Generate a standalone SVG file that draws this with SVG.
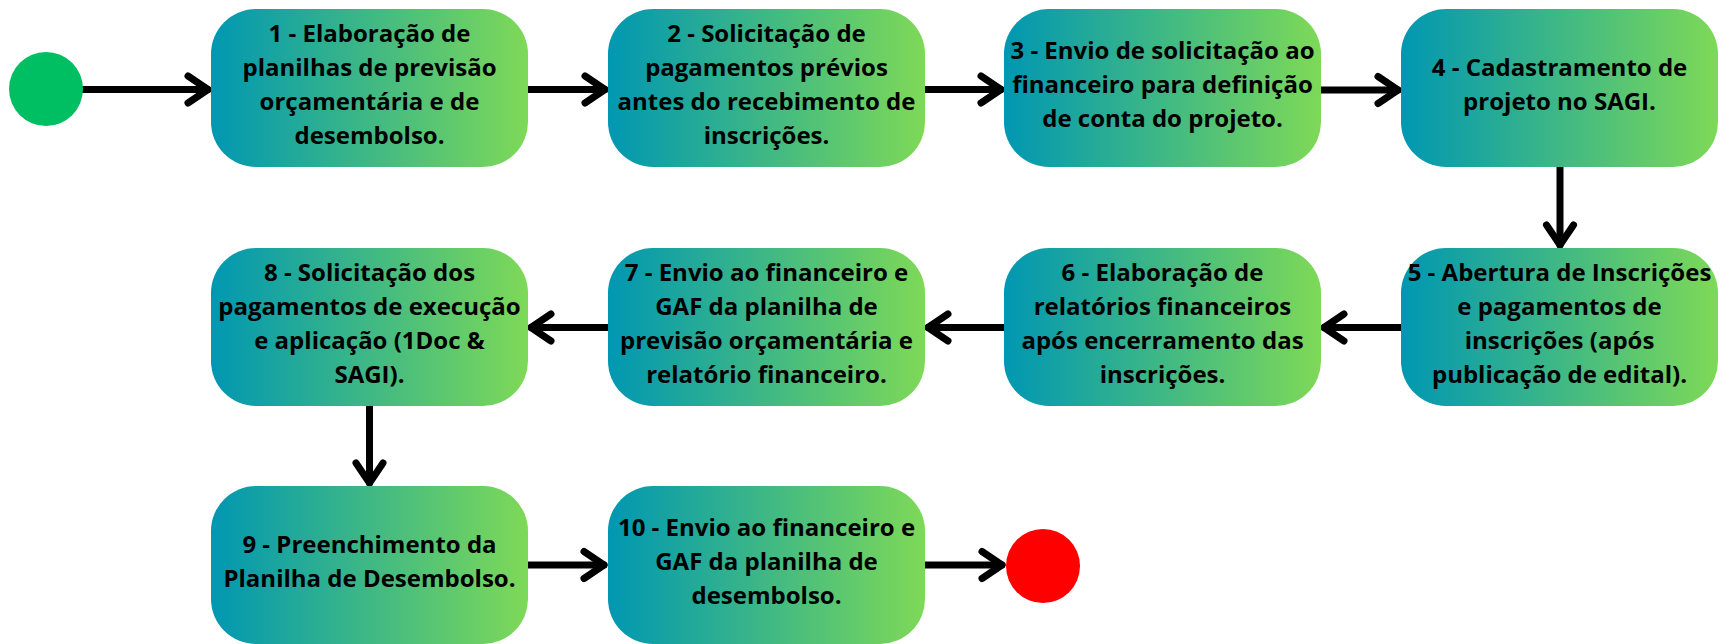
<svg xmlns="http://www.w3.org/2000/svg" width="1729" height="644" viewBox="0 0 1729 644">
<style>
.box{fill:url(#g)}
.t{font-family:"Open Sans","Liberation Sans",sans-serif;font-weight:700;font-size:24px;fill:#000;text-anchor:middle}
.c{fill:none;stroke:#000;stroke-width:7;stroke-linecap:round;marker-end:url(#ah)}
</style>
<defs>
<linearGradient id="g" x1="0" y1="0" x2="1" y2="0">
<stop offset="0" stop-color="#0097b2"/>
<stop offset="1" stop-color="#7ed957"/>
</linearGradient>
<marker id="ah" markerUnits="userSpaceOnUse" viewBox="-28 -20 34 40" refX="0" refY="0" markerWidth="34" markerHeight="40" orient="auto" overflow="visible">
<path d="M-20,-13.5 L0,0 L-20,13.5" fill="none" stroke="#000" stroke-width="7" stroke-linecap="round" stroke-linejoin="round"/>
</marker>
</defs>
<rect width="1729" height="644" fill="#fff"/>

<g id="connectors">
<path class="c" d="M80,89.5 L208,89.5"/>
<path class="c" d="M525,89.5 L605,89.5"/>
<path class="c" d="M922,89.5 L1001,89.5"/>
<path class="c" d="M1318,90 L1398,90"/>
<path class="c" d="M1560,167 L1560,245"/>
<path class="c" d="M1404,327.5 L1324,327.5"/>
<path class="c" d="M1007,327.5 L928,327.5"/>
<path class="c" d="M610,327.5 L531,327.5"/>
<path class="c" d="M369.5,405 L369.5,483"/>
<path class="c" d="M525,565 L604,565"/>
<path class="c" d="M922,565 L1002,565"/>
</g>

<g id="start"><circle cx="46" cy="89" r="37" fill="#00bf63"/></g>
<g id="end"><circle cx="1043" cy="566" r="37" fill="#ff0000"/></g>

<g id="n1">
<rect class="box" x="211" y="9" width="317" height="158" rx="45"/>
<text class="t" x="369.5" y="42">1 - Elaboração de</text>
<text class="t" x="369.5" y="76">planilhas de previsão</text>
<text class="t" x="369.5" y="110">orçamentária e de</text>
<text class="t" x="369.5" y="144">desembolso.</text>
</g>
<g id="n2">
<rect class="box" x="608" y="9" width="317" height="158" rx="45"/>
<text class="t" x="766.5" y="42">2 - Solicitação de</text>
<text class="t" x="766.5" y="76">pagamentos prévios</text>
<text class="t" x="766.5" y="110">antes do recebimento de</text>
<text class="t" x="766.5" y="144">inscrições.</text>
</g>
<g id="n3">
<rect class="box" x="1004" y="9" width="317" height="158" rx="45"/>
<text class="t" x="1162.5" y="59">3 - Envio de solicitação ao</text>
<text class="t" x="1162.5" y="93">financeiro para definição</text>
<text class="t" x="1162.5" y="127">de conta do projeto.</text>
</g>
<g id="n4">
<rect class="box" x="1401" y="9" width="317" height="158" rx="45"/>
<text class="t" x="1559.5" y="76">4 - Cadastramento de</text>
<text class="t" x="1559.5" y="110">projeto no SAGI.</text>
</g>
<g id="n5">
<rect class="box" x="1401" y="248" width="317" height="158" rx="45"/>
<text class="t" x="1559.5" y="281">5 - Abertura de Inscrições</text>
<text class="t" x="1559.5" y="315">e pagamentos de</text>
<text class="t" x="1559.5" y="349">inscrições (após</text>
<text class="t" x="1559.5" y="383">publicação de edital).</text>
</g>
<g id="n6">
<rect class="box" x="1004" y="248" width="317" height="158" rx="45"/>
<text class="t" x="1162.5" y="281">6 - Elaboração de</text>
<text class="t" x="1162.5" y="315">relatórios financeiros</text>
<text class="t" x="1162.5" y="349">após encerramento das</text>
<text class="t" x="1162.5" y="383">inscrições.</text>
</g>
<g id="n7">
<rect class="box" x="608" y="248" width="317" height="158" rx="45"/>
<text class="t" x="766.5" y="281">7 - Envio ao financeiro e</text>
<text class="t" x="766.5" y="315">GAF da planilha de</text>
<text class="t" x="766.5" y="349">previsão orçamentária e</text>
<text class="t" x="766.5" y="383">relatório financeiro.</text>
</g>
<g id="n8">
<rect class="box" x="211" y="248" width="317" height="158" rx="45"/>
<text class="t" x="369.5" y="281">8 - Solicitação dos</text>
<text class="t" x="369.5" y="315">pagamentos de execução</text>
<text class="t" x="369.5" y="349">e aplicação (1Doc &amp;</text>
<text class="t" x="369.5" y="383">SAGI).</text>
</g>
<g id="n9">
<rect class="box" x="211" y="486" width="317" height="158" rx="45"/>
<text class="t" x="369.5" y="553">9 - Preenchimento da</text>
<text class="t" x="369.5" y="587">Planilha de Desembolso.</text>
</g>
<g id="n10">
<rect class="box" x="608" y="486" width="317" height="158" rx="45"/>
<text class="t" x="766.5" y="536">10 - Envio ao financeiro e</text>
<text class="t" x="766.5" y="570">GAF da planilha de</text>
<text class="t" x="766.5" y="604">desembolso.</text>
</g>
</svg>
